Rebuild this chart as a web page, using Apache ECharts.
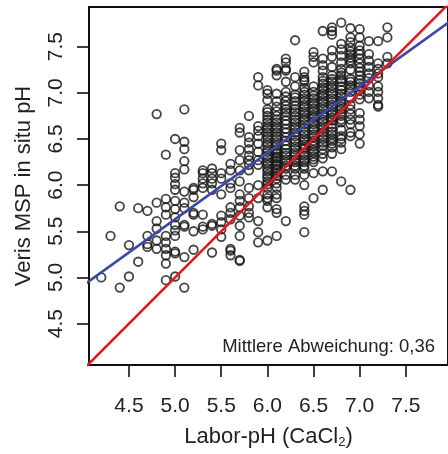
<!DOCTYPE html>
<html>
<head>
<meta charset="utf-8">
<script src="https://cdn.jsdelivr.net/npm/echarts@6/dist/echarts.min.js"></script>
<style>
html,body{margin:0;padding:0;background:#fff;}
#chart{width:448px;height:454px;}
</style>
</head>
<body>
<div id="chart"></div>
<script>
// Lab pH (CaCl2) categories, x values
const labPH = [4.2,4.3,4.4,4.5,4.6,4.7,4.8,4.9,5.0,5.1,5.2,5.3,5.4,5.5,5.6,5.7,5.8,5.9,6.0,6.1,6.2,6.3,6.4,6.5,6.6,6.7,6.8,6.9,7.0,7.1,7.2,7.3];
// Veris MSP in situ pH readings for each lab pH value
const insituPH = [
  [5.00],
  [5.45],
  [4.89,5.77],
  [5.01,5.35],
  [5.17,5.75],
  [5.33,5.36,5.45,5.72],
  [5.31,5.40,5.53,5.61,5.81,6.77],
  [4.97,5.15,5.24,5.31,5.38,5.45,5.68,5.76,5.85,6.33],
  [5.01,5.26,5.28,5.45,5.51,5.57,5.65,5.74,5.83,5.95,6.01,6.08,6.13,6.50],
  [4.89,5.22,5.55,5.57,5.75,5.81,5.93,6.17,6.26,6.39,6.47,6.82],
  [5.30,5.50,5.68,5.70,5.87,5.95,5.97],
  [5.52,5.55,5.68,5.97,6.02,6.07,6.13,6.16],
  [5.27,5.56,5.58,5.95,6.02,6.07,6.13,6.18],
  [5.44,5.52,5.60,5.67,5.90,6.07,6.13,6.38,6.45],
  [5.24,5.29,5.31,5.63,5.70,5.76,5.97,6.02,6.16,6.23],
  [5.18,5.19,5.45,5.56,5.67,5.76,5.83,5.90,6.04,6.16,6.27,6.38,6.57,6.62],
  [5.65,5.70,5.77,5.86,5.97,6.16,6.22,6.27,6.32,6.39,6.46,6.52,6.75],
  [5.38,5.49,5.61,5.86,6.00,6.22,6.27,6.36,6.45,6.53,6.59,6.64,7.08,7.17],
  [5.40,5.76,5.83,5.86,5.90,5.97,6.04,6.11,6.18,6.25,6.32,6.39,6.46,6.53,6.61,6.68,6.75,6.82,6.92,6.99,7.03,
   6.01,6.08,6.15,6.22,6.29,6.36,6.43,6.50,6.57,6.64,6.71,6.79],
  [5.45,5.70,5.74,5.86,5.90,5.97,6.02,6.07,6.13,6.18,6.23,6.29,6.34,6.39,6.46,6.53,6.61,6.68,6.75,6.80,6.85,6.91,6.99,7.19,7.24,7.26,
   6.10,6.16,6.21,6.26,6.31,6.36,6.43,6.50,6.57,6.64,6.71],
  [5.61,6.06,6.11,6.18,6.25,6.32,6.39,6.48,6.57,6.66,6.75,6.82,6.91,7.01,7.12,7.24,7.26,7.33,7.37,
   6.21,6.28,6.35,6.43,6.52,6.61,6.70,6.79,6.86,6.96],
  [6.06,6.11,6.18,6.25,6.32,6.39,6.46,6.53,6.61,6.68,6.75,6.82,6.91,6.98,7.07,7.17,7.57,
   6.21,6.28,6.35,6.42,6.49,6.57,6.64,6.71,6.79,6.86,6.95],
  [5.49,5.68,5.72,5.77,6.00,6.11,6.18,6.25,6.32,6.39,6.41,6.48,6.55,6.62,6.70,6.77,6.84,6.91,6.98,7.05,7.12,7.14,7.17,7.23,
   6.21,6.28,6.35,6.44,6.51,6.58,6.66,6.73,6.80,6.87,6.94,7.01],
  [5.86,6.13,6.25,6.31,6.38,6.45,6.52,6.59,6.66,6.73,6.80,6.87,6.94,7.01,7.07,7.33,7.39,7.44,
   6.28,6.35,6.42,6.48,6.55,6.62,6.69,6.76,6.83,6.90,6.97],
  [5.95,6.15,6.29,6.34,6.39,6.46,6.53,6.61,6.68,6.75,6.82,6.89,6.96,7.03,7.10,7.17,7.24,7.30,7.37,7.67,
   6.43,6.50,6.57,6.64,6.71,6.78,6.85,6.92,6.99,7.06,7.13],
  [6.15,6.34,6.41,6.48,6.55,6.62,6.70,6.77,6.84,6.91,6.98,7.05,7.12,7.19,7.28,7.39,7.46,7.63,7.67,7.71,
   6.45,6.51,6.58,6.66,6.73,6.80,6.87,6.94,7.01,7.08,7.15],
  [6.04,6.39,6.46,6.53,6.68,6.75,6.82,6.89,6.96,7.03,7.12,7.19,7.26,7.33,7.40,7.47,7.53,7.76,
   6.50,6.60,6.71,6.78,6.85,6.92,6.99,7.07,7.15,7.22],
  [5.95,6.53,6.57,6.66,6.71,6.77,6.82,7.01,7.05,7.08,7.12,7.32,7.35,7.42,7.49,7.55,7.60,7.70,
   6.87,6.94,7.15,7.25,7.38,7.45],
  [6.45,6.55,6.64,6.71,6.78,6.93,6.98,7.07,7.14,7.23,7.32,7.42,7.51,7.60,7.69,
   7.03,7.10,7.19,7.27,7.37,7.46],
  [6.94,7.01,7.08,7.16,7.21,7.28,7.35,7.42,7.56],
  [6.85,6.87,6.94,7.01,7.07,7.17,7.21,7.26,7.32,7.56],
  [7.32,7.39,7.60,7.71]
];
// tick labels
const xTicks = [4.5,5.0,5.5,6.0,6.5,7.0,7.5];
const yTicks = [4.5,5.0,5.5,6.0,6.5,7.0,7.5];
// regression line (blue) and 1:1 line (red)
const fitIntercept = 2.03;
const fitSlope = 0.72;
const lineRange = [4.0, 8.0];
const annotation = 'Mittlere Abweichung: 0,36';

const points = [];
labPH.forEach((x, i) => insituPH[i].forEach(y => points.push([x, y])));
const fitLine = lineRange.map(x => [x, fitIntercept + fitSlope * x]);
const oneToOne = lineRange.map(x => [x, x]);

const FONT = "'Liberation Sans', Arial, sans-serif";
const chart = echarts.init(document.getElementById('chart'), null, {renderer: 'canvas'});
chart.setOption({
  animation: false,
  backgroundColor: '#fff',
  grid: {
    left: 89, top: 7, width: 364, height: 363,
    show: true, borderColor: '#111', borderWidth: 2, backgroundColor: 'transparent'
  },
  xAxis: {
    type: 'value', min: 4.067, max: 7.957,
    name: 'Labor-pH (CaCl{sub|2})', nameLocation: 'middle', nameGap: 59,
    nameTextStyle: {
      fontFamily: FONT, fontSize: 22, color: '#222',
      rich: { sub: { fontFamily: FONT, fontSize: 13, color: '#222', padding: [12, 0, 0, 0] } }
    },
    axisLine: {show: false},
    axisTick: {show: true, customValues: xTicks, length: 12, lineStyle: {color: '#111', width: 1.6}},
    axisLabel: {customValues: xTicks, margin: 31, fontFamily: FONT, fontSize: 21, color: '#222',
      formatter: v => v.toFixed(1)},
    splitLine: {show: false}
  },
  yAxis: {
    type: 'value', min: 4.051, max: 7.930,
    name: 'Veris MSP in situ pH', nameLocation: 'middle', nameGap: 54, nameRotate: 90,
    nameTextStyle: {fontFamily: FONT, fontSize: 22, color: '#222'},
    axisLine: {show: false},
    axisTick: {show: true, customValues: yTicks, length: 12, lineStyle: {color: '#111', width: 1.6}},
    axisLabel: {customValues: yTicks, rotate: 90, margin: 22, fontFamily: FONT, fontSize: 21, color: '#222',
      formatter: v => v.toFixed(1)},
    splitLine: {show: false}
  },
  series: [
    {
      type: 'scatter', data: points, symbol: 'circle', symbolSize: 8.5,
      itemStyle: {color: 'rgba(0,0,0,0)', borderColor: '#151515', borderWidth: 1.8},
      emphasis: {disabled: true}, z: 2
    },
    {
      type: 'line', data: fitLine, showSymbol: false, clip: true,
      lineStyle: {color: '#3b48a6', width: 2.6}, z: 3
    },
    {
      type: 'line', data: oneToOne, showSymbol: false, clip: true,
      lineStyle: {color: '#e8161c', width: 2.6}, z: 4
    }
  ],
  graphic: [{
    type: 'text', right: 13, top: 337,
    style: {text: annotation, font: "18.5px 'Liberation Sans', Arial, sans-serif", fill: '#222'}
  }]
});
</script>
</body>
</html>
